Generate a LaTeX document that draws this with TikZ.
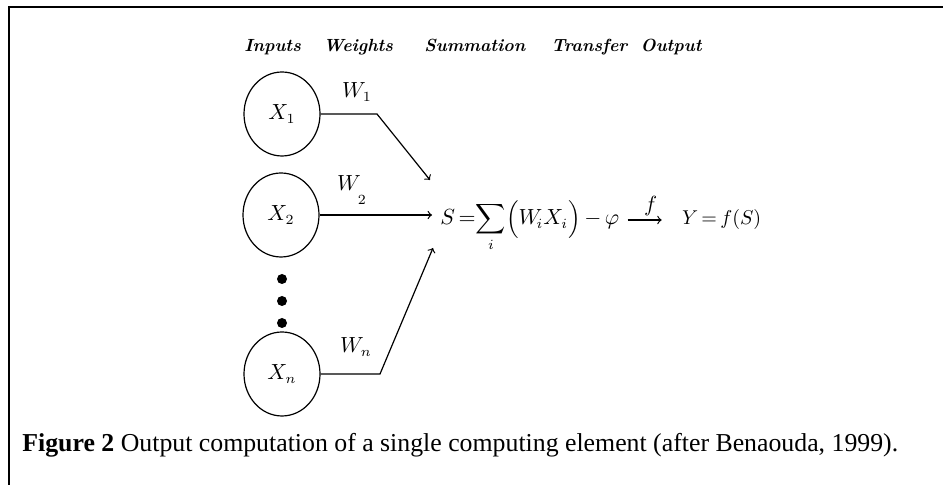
\documentclass[tikz,border=0pt]{standalone}
\usepackage{amsmath,amssymb}
\usepackage{fontspec}
\newfontfamily\capfont{Liberation Serif}
\usetikzlibrary{shapes.geometric, arrows, positioning}

\begin{document}
\begin{tikzpicture}[
    x=0.5pt, y=-0.5pt,
    head/.style={font=\fontsize{8.8}{10}\selectfont\bfseries\itshape, anchor=base west, inner sep=0pt},
    neuron/.style={ellipse, draw, semithick, minimum width=38pt, minimum height=42pt, inner sep=0pt, font=\fontsize{10.5}{12}\selectfont},
    dot/.style={circle, fill, inner sep=0pt, minimum size=5pt},
    wlabel/.style={font=\fontsize{10.5}{12}\selectfont, inner sep=0pt},
    arrow/.style={->, semithick},
  ]
    \useasboundingbox (0,0) rectangle (943,485);

    % Frame (top and left edges only)
    \draw[line width=1pt] (9,485) -- (9,7) -- (943,7);

    % Column headings
    \node[head] (hinputs) at (244,52) {Inputs};
    \node[head] (hweights) at (323,52) {Weights};
    \node[head] (hsum) at (424,52) {Summation};
    \node[head] (htransfer) at (551,52) {Transfer};
    \node[head, anchor=base east] (houtput) at (702,52) {Output};

    % Input neurons
    \node[neuron] (x1) at (282,114) {$X_1$};
    \node[neuron] (x2) at (281,215) {$X_2$};
    \node[neuron] (xn) at (282,374) {$X_n$};

    % Dots between x2 and xn
    \node[dot] (d1) at (282,279) {};
    \node[dot] (d2) at (282,301) {};
    \node[dot] (d3) at (282,323) {};

    % Summation and output
    \node[font=\fontsize{10.5}{12}\selectfont, anchor=base west, inner sep=0pt] (sum) at (440,225)
      {$S\,{=}\!\displaystyle\sum_{i}\Bigl(W_{\!i} X_{i}\Bigr)\,{-}\,\varphi$};
    \node[font=\fontsize{10}{12}\selectfont, base right=31pt of sum, inner sep=0pt] (out) {$Y\,{=}\,f(S)$};

    % Bend points and arrow tips
    \coordinate (b1) at (377,114);
    \coordinate (t1) at (430,180);
    \coordinate (t2) at (432,215);
    \coordinate (bn) at (380,374);
    \coordinate (tn) at (433,248);

    % Weighted connections
    \draw[arrow] (x1.east) -- (b1) -- (t1);
    \draw[arrow] (x2.east) -- (t2);
    \draw[arrow] (xn.east) -- (bn) -- (tn);

    % Weight labels
    \node[wlabel] (w1) at (357,92) {$W_1$};
    \node[wlabel] (w2) at (352,190) {$W_{\lower5pt\hbox{$\scriptstyle 2$}}$};
    \node[wlabel] (wn) at (356,347) {$W_n$};

    % Transfer arrow
    \draw[arrow, shorten <=4pt, shorten >=10pt] (sum.east |- out.west) -- node[above, font=\fontsize{10.5}{12}\selectfont, inner sep=2pt] (f) {$f$} (out.west);

    % Caption
    \node[anchor=base west, inner sep=0pt, font=\capfont\fontsize{12.9}{15}\selectfont] (caption) at (22,452)
      {\textbf{Figure 2} Output computation of a single computing element (after Benaouda, 1999).};
\end{tikzpicture}
\end{document}
